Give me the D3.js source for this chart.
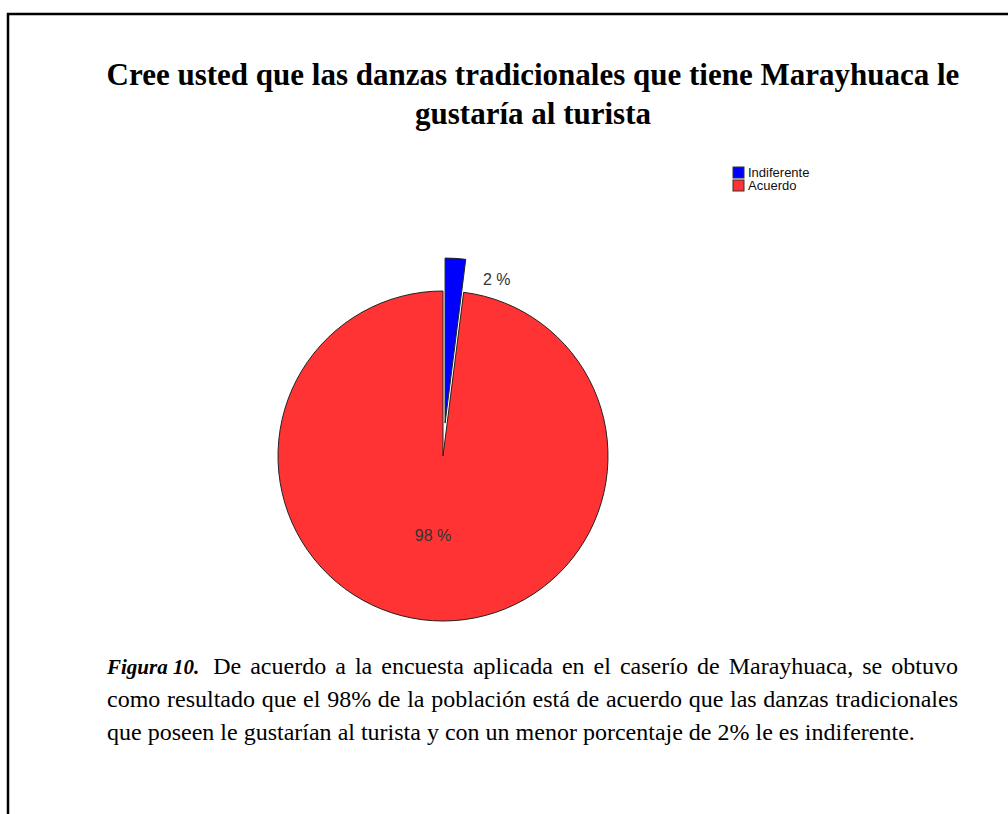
<!DOCTYPE html>
<html>
<head>
<meta charset="utf-8">
<script src="https://cdn.jsdelivr.net/npm/d3@7"></script>
<style>
  body { margin: 0; background: #fff; }
  svg { display: block; }
  .title { font-family: "Liberation Serif", "Times New Roman", serif; font-weight: bold; font-size: 31px; }
  .cap { font-family: "Liberation Serif", "Times New Roman", serif; font-size: 24px; }
  .lead { font-family: "Liberation Serif", "Times New Roman", serif; font-size: 21px; font-weight: bold; font-style: italic; }
  .lbl { font-family: "Liberation Sans", Arial, sans-serif; font-size: 16px; fill: #333; }
  .leg { font-family: "Liberation Sans", Arial, sans-serif; font-size: 13px; fill: #111; }
</style>
</head>
<body>
<svg width="1008" height="814"></svg>
<script>
// data
var categories = ["Indiferente", "Acuerdo"]
var values = [2, 98]
var labels = ["2 %", "98 %"]
var colors = ["#0000ff", "#ff3333"]
var titleLines = ["Cree usted que las danzas tradicionales que tiene Marayhuaca le", "gustaría al turista"]
var captionLead = "Figura 10."
var captionLines = [
	"De acuerdo a la encuesta aplicada en el caserío de Marayhuaca, se obtuvo",
	"como resultado que el 98% de la población está de acuerdo que las danzas tradicionales",
	"que poseen le gustarían al turista y con un menor porcentaje de 2% le es indiferente."
]

var svg = d3.select("svg")

// frame (top + left only)
svg.append("path")
	.attr("d", "M8,814 L8,14 L1008,14")
	.attr("fill", "none")
	.attr("stroke", "#000")
	.attr("stroke-width", 2.5)

// title
svg.selectAll(".title").data(titleLines).enter()
	.append("text")
	.attr("class", "title")
	.attr("text-anchor", "middle")
	.attr("x", 533)
	.attr("y", function(d, i) { return 85 + i * 39 })
	.text(function(d) { return d })

// pie
var cx = 443, cy = 456, r = 165, explode = 33
var pie = d3.pie().sort(null).value(function(d) { return d })
var arcs = pie(values)
var arc = d3.arc().innerRadius(0).outerRadius(r)
var g = svg.append("g").attr("transform", "translate(" + cx + "," + cy + ")")

// big slice first, exploded one on top
var order = [1, 0]
order.forEach(function(i) {
	var a = arcs[i]
	var mid = (a.startAngle + a.endAngle) / 2
	var off = i == 0 ? explode : 0
	g.append("path")
		.attr("d", arc(a))
		.attr("transform", "translate(" + (off * Math.sin(mid)) + "," + (-off * Math.cos(mid)) + ")")
		.attr("fill", colors[i])
		.attr("stroke", "#222")
		.attr("stroke-width", 1)
})

// slice labels
var inner = d3.arc().innerRadius(80).outerRadius(80)
g.append("text")
	.attr("class", "lbl")
	.attr("text-anchor", "middle")
	.attr("transform", function() {
		var c = inner.centroid(arcs[1])
		return "translate(" + (c[0] - 5) + "," + (c[1] + 5) + ")"
	})
	.text(labels[1])
var outAng = 17 * Math.PI / 180, outR = 184
g.append("text")
	.attr("class", "lbl")
	.attr("text-anchor", "middle")
	.attr("x", outR * Math.sin(outAng))
	.attr("y", -outR * Math.cos(outAng) + 5)
	.text(labels[0])

// legend
var leg = svg.append("g").attr("transform", "translate(733,167)")
var li = leg.selectAll("g").data(categories).enter().append("g")
	.attr("transform", function(d, i) { return "translate(0," + (i * 13) + ")" })
li.append("rect")
	.attr("width", 11).attr("height", 11)
	.attr("fill", function(d, i) { return colors[i] })
	.attr("stroke", "#333").attr("stroke-width", 1)
li.append("text")
	.attr("class", "leg")
	.attr("x", 15).attr("y", 10)
	.text(function(d) { return d })

// caption, justified by hand
var capX0 = 107, capX1 = 958, capY = 674, capDy = 33
function measure(txt, cls) {
	var s = svg.append("text").attr("class", cls).text(txt)
	var w = s.node().getComputedTextLength()
	s.remove()
	return w
}
var spaceW = measure("a a", "cap") - measure("aa", "cap")

var leadW = measure(captionLead, "lead")
svg.append("text").attr("class", "lead")
	.attr("x", capX0).attr("y", capY)
	.text(captionLead)

captionLines.forEach(function(line, i) {
	var words = line.split(" ")
	var x0 = i == 0 ? capX0 + leadW + 14 : capX0
	var widths = words.map(function(w) { return measure(w, "cap") })
	var last = i == captionLines.length - 1
	var gapW = last ? spaceW : (capX1 - x0 - d3.sum(widths)) / (words.length - 1)
	var x = x0
	words.forEach(function(w, k) {
		svg.append("text").attr("class", "cap")
			.attr("x", x).attr("y", capY + i * capDy)
			.text(w)
		x += widths[k] + gapW
	})
})
</script>
</body>
</html>
